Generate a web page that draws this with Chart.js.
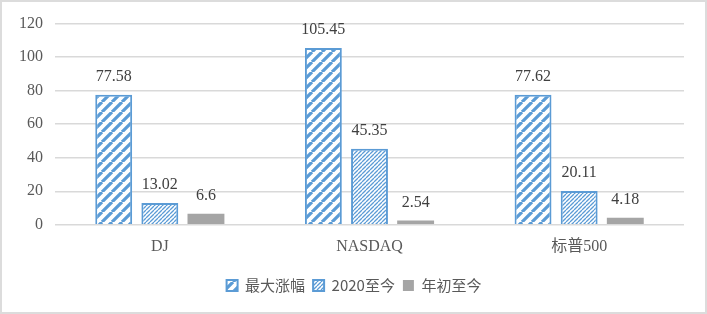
<!DOCTYPE html>
<html>
<head>
<meta charset="utf-8">
<script src="https://cdn.jsdelivr.net/npm/chart.js@4.4.1/dist/chart.umd.min.js"></script>
<style>
  html, body { margin: 0; padding: 0; background: #fff; }
  #wrap {
    width: 707px; height: 314px; box-sizing: border-box;
    border: 2px solid #dcdcdc; background: #fff;
  }
</style>
</head>
<body>
<div id="wrap"><canvas id="chart" width="703" height="310"></canvas></div>
<script>
// data
const categories = ['DJ', 'NASDAQ', '标普500'];
const seriesNames = ['最大涨幅', '2020至今', '年初至今'];
const maxGain = [77.58, 105.45, 77.62];
const since2020 = [13.02, 45.35, 20.11];
const ytd = [6.6, 2.54, 4.18];
const yTicks = [0, 20, 40, 60, 80, 100, 120];

const BLUE = '#5B9BD5';
const GREY = '#A5A5A5';
const SERIF = '"Liberation Serif", "Times New Roman", "Noto Sans CJK SC", serif';

// diagonal hatch: size = spacing, w = stroke width
function hatch(size, w) {
    const c = document.createElement('canvas');
    c.width = size; c.height = size;
    const g = c.getContext('2d');
    g.fillStyle = '#fff';
    g.fillRect(0, 0, size, size);
    g.strokeStyle = BLUE;
    g.lineWidth = w;
    g.beginPath();
    for (let k = -1; k <= 1; k++) {
        g.moveTo(k * size, size);
        g.lineTo(k * size + size, 0);
    }
    g.stroke();
    return g.createPattern(c, 'repeat');
}

const ctx = document.getElementById('chart').getContext('2d');

// value labels above each bar
const valueLabels = {
    id: 'valueLabels',
    afterDatasetsDraw(chart) {
        const g = chart.ctx;
        g.save();
        g.font = '16px ' + SERIF;
        g.fillStyle = '#404040';
        g.textAlign = 'center';
        g.textBaseline = 'alphabetic';
        chart.data.datasets.forEach((ds, i) => {
            chart.getDatasetMeta(i).data.forEach((bar, j) => {
                g.fillText(String(ds.data[j]), bar.x, bar.y - 14);
            });
        });
        g.restore();
    }
};

// the legend is centred on the whole box in the original, not on the plot -> nudge it right
const legendShift = {
    id: 'legendShift',
    afterInit(chart) {
        const lg = chart.legend;
        if (!lg || lg._nudged) return;
        const orig = lg.draw.bind(lg);
        lg.draw = function () {
            chart.ctx.save();
            chart.ctx.translate(11, 0);
            orig();
            chart.ctx.restore();
        };
        lg._nudged = true;
    }
};

new Chart(ctx, {
    type: 'bar',
    data: {
        labels: categories,
        datasets: [
            { label: seriesNames[0], data: maxGain, backgroundColor: hatch(10, 3.2), borderColor: BLUE, borderWidth: 2 },
            { label: seriesNames[1], data: since2020, backgroundColor: hatch(4, 1.3), borderColor: BLUE, borderWidth: 2 },
            { label: seriesNames[2], data: ytd, backgroundColor: GREY, borderWidth: 0 }
        ]
    },
    options: {
        responsive: false,
        animation: false,
        layout: { padding: { top: 14, right: 21, left: 0, bottom: 9 } },
        datasets: { bar: { categoryPercentage: 0.66, barPercentage: 0.8 } },
        scales: {
            x: {
                grid: { display: false },
                border: { display: false },
                afterFit: s => { s.height += 10; },
                ticks: { color: '#595959', font: { family: SERIF, size: 16 }, padding: 4 }
            },
            y: {
                min: 0, max: 120,
                afterBuildTicks: s => { s.ticks = yTicks.map(v => ({ value: v })); },
                afterFit: s => { s.width = 53; },
                grid: { color: '#d9d9d9', lineWidth: 1.5, drawTicks: false },
                border: { display: false },
                ticks: { color: '#595959', font: { family: SERIF, size: 16 }, padding: 12 }
            }
        },
        plugins: {
            legend: {
                position: 'bottom',
                labels: {
                    color: '#595959',
                    font: { family: '"Noto Sans CJK SC", sans-serif', size: 15 },
                    boxWidth: 11, boxHeight: 11, padding: 8
                }
            },
            tooltip: { enabled: false }
        }
    },
    plugins: [valueLabels, legendShift]
});
</script>
</body>
</html>
